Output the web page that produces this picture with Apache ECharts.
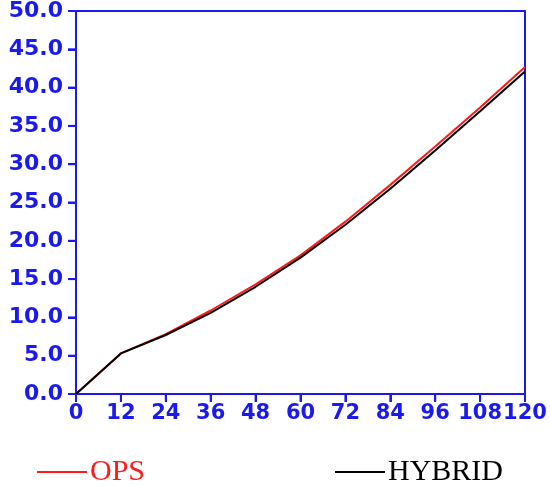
<!DOCTYPE html>
<html>
<head>
<meta charset="utf-8">
<script src="https://cdn.jsdelivr.net/npm/echarts@6/dist/echarts.min.js"></script>
<style>html,body{margin:0;padding:0;background:#fff}#c{width:550px;height:487px}</style>
</head>
<body>
<div id="c"></div>
<script>
var hours = [0, 12, 24, 36, 48, 60, 72, 84, 96, 108, 120];
var yTicks = [0, 5, 10, 15, 20, 25, 30, 35, 40, 45, 50];
var opsValues = [0, 5.3, 7.8, 10.9, 14.3, 18.1, 22.5, 27.3, 32.3, 37.4, 42.7];
var hybridValues = [0, 5.3, 7.7, 10.6, 14.0, 17.8, 22.1, 26.8, 31.8, 36.9, 42.1];
var seriesNames = ['OPS', 'HYBRID'];

var blue = '#1a1aee';
var chart = echarts.init(document.getElementById('c'));
function pairs(vals){ return hours.map(function(h,i){ return [h, vals[i]]; }); }
var tickData = hours.map(function(h){ return [h, 0, 0]; }).concat(yTicks.map(function(v){ return [0, v, 1]; }));
chart.setOption({
  animation: false,
  backgroundColor: '#fff',
  grid: { left: 76, right: 25, top: 11, bottom: 93 },
  xAxis: [{
    type: 'value', min: 0, max: 120, interval: 12, position: 'bottom',
    axisLine: { show: true, onZero: false, lineStyle: { color: blue, width: 2 } },
    axisTick: { show: true, length: 8, lineStyle: { color: blue, width: 2 } },
    axisLabel: { show: true, margin: 9, hideOverlap: false, showMaxLabel: true, showMinLabel: true,
      color: blue, fontFamily: 'DejaVu Sans', fontWeight: 'bold', fontSize: 21 },
    splitLine: { show: false }
  }, {
    type: 'value', min: 0, max: 120, interval: 12, position: 'top',
    axisLine: { show: true, onZero: false, lineStyle: { color: blue, width: 2 } },
    axisTick: { show: false }, axisLabel: { show: false }, splitLine: { show: false }
  }],
  yAxis: [{
    type: 'value', min: 0, max: 50, interval: 5, position: 'left',
    axisLine: { show: true, onZero: false, lineStyle: { color: blue, width: 2 } },
    axisTick: { show: true, length: 8, lineStyle: { color: blue, width: 2 } },
    axisLabel: { show: true, margin: 13, formatter: function(v){ return v.toFixed(1); },
      color: blue, fontFamily: 'DejaVu Sans', fontWeight: 'bold', fontSize: 22 },
    splitLine: { show: false }
  }, {
    type: 'value', min: 0, max: 50, interval: 5, position: 'right',
    axisLine: { show: true, onZero: false, lineStyle: { color: blue, width: 2 } },
    axisTick: { show: false }, axisLabel: { show: false }, splitLine: { show: false }
  }],
  legend: [
    { left: 32, top: 452, icon: 'rect', itemWidth: 50, itemHeight: 2, itemGap: 0,
      data: [{ name: seriesNames[0], textStyle: { color: '#ff1a1a' } }],
      textStyle: { fontFamily: 'Liberation Serif', fontSize: 30, padding: [0,0,0,-2] } },
    { left: 330, top: 452, icon: 'rect', itemWidth: 50, itemHeight: 2, itemGap: 0,
      data: [{ name: seriesNames[1], textStyle: { color: '#000' } }],
      textStyle: { fontFamily: 'Liberation Serif', fontSize: 30, padding: [0,0,0,-2] } }
  ],
  series: [
    { name: seriesNames[0], type: 'line', data: pairs(opsValues), symbol: 'none', color: '#ff1a1a', lineStyle: { width: 2, color: '#ff1a1a' } },
    { name: seriesNames[1], type: 'line', data: pairs(hybridValues), symbol: 'none', color: '#000', lineStyle: { width: 2, color: '#000' } },
    { name: 'ticks', type: 'custom', data: tickData, clip: false, silent: true, z: 5,
      renderItem: function(params, api){
        var p = api.coord([api.value(0), api.value(1)]);
        var isY = api.value(2) === 1;
        return { type: 'line',
          shape: isY ? { x1: p[0], y1: p[1], x2: p[0] - 8, y2: p[1] } : { x1: p[0], y1: p[1], x2: p[0], y2: p[1] + 8 },
          style: { stroke: blue, lineWidth: 2 } };
      } }
  ]
});
</script>
</body>
</html>
